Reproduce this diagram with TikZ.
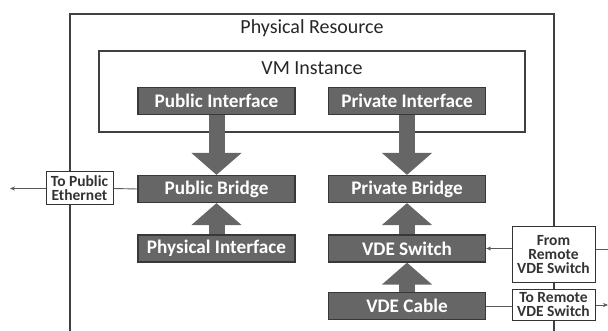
\documentclass[tikz,border=0pt]{standalone}
\usepackage{fontspec}
\setmainfont{Carlito}
\usetikzlibrary{arrows.meta,positioning}

\begin{document}
\begin{tikzpicture}
[
x=1pt, y=-1pt,
Frame/.style={draw=black!75, line width=1.3pt},
Title/.style={text=black!85, font=\fontsize{20}{22}\selectfont, inner sep=0pt},
Block/.style={rectangle, draw=black!78, fill=black!60, line width=1.2pt, text=white, font=\bfseries\fontsize{19.2}{21}\selectfont, minimum width=157pt, minimum height=27pt, inner sep=0pt},
Label/.style={rectangle, draw=black!80, fill=white, line width=1pt, text=black!80, font=\bfseries\fontsize{15.5}{14}\selectfont, align=center, inner sep=0pt},
FatArrow/.style={draw=black!60, line width=16pt, -{Triangle[width=49pt,length=22pt]}},
Link/.style={draw=black!65, line width=0.9pt},
LinkArrow/.style={Link, -{Stealth[length=5pt,width=4pt]}},
]

\useasboundingbox (0,0) rectangle (608,331);

% physical resource and vm instance
\draw[Frame] (70,331) -- (70,14) -- (554,14) -- (554,331);
\node[Title] (phys) at (312,28) {Physical Resource};
\draw[Frame, line width=1.1pt] (99,51) rectangle (525,132);
\node[Title] (vm) at (312,68) {VM Instance};

% blocks
\node[Block] (pubif)  at (216.5,101)   {Public Interface};
\node[Block] (privif) at (407,101)     {Private Interface};
\node[Block] (pubbr)  at (216.5,189)   {Public Bridge};
\node[Block] (privbr) at (407,189)     {Private Bridge};
\node[Block] (physif) at (216.5,248.5) {Physical Interface};
\node[Block] (vdesw)  at (407,248.5)   {VDE Switch};
\node[Block] (vdecab) at (407,306)     {VDE Cable};

\draw[FatArrow] (pubif.south)  -- (pubbr.north);
\draw[FatArrow] (privif.south) -- (privbr.north);
\draw[FatArrow] (physif.north) -- (pubbr.south);
\draw[FatArrow] (vdesw.north)  -- (privbr.south);
\draw[FatArrow] (vdecab.north) -- (vdesw.south);

% outside links
\node[Label, minimum width=67pt, minimum height=33pt] (toeth) at (79.5,188.5) {To Public\\Ethernet};
\node[Label, minimum width=83pt, minimum height=56pt] (fromvde) at (553.5,255) {From\\Remote\\VDE Switch};
\node[Label, minimum width=83pt, minimum height=31pt] (tovde) at (553.5,304.5) {To Remote\\VDE Switch};

\coordinate (ethend) at (10,188.5);
\coordinate (fromend) at (608,249);
\coordinate (toend) at (608,305);

\draw[Link] (pubbr.west) -- (toeth.east);
\draw[LinkArrow] (toeth.west) -- (ethend);
\draw[LinkArrow] (fromvde.west |- vdesw.east) -- (vdesw.east);
\draw[Link] (fromvde.east |- fromend) -- (fromend);
\draw[Link] (vdecab.east) -- (tovde.west |- vdecab.east);
\draw[LinkArrow] (tovde.east |- toend) -- (toend);

\end{tikzpicture}
\end{document}
